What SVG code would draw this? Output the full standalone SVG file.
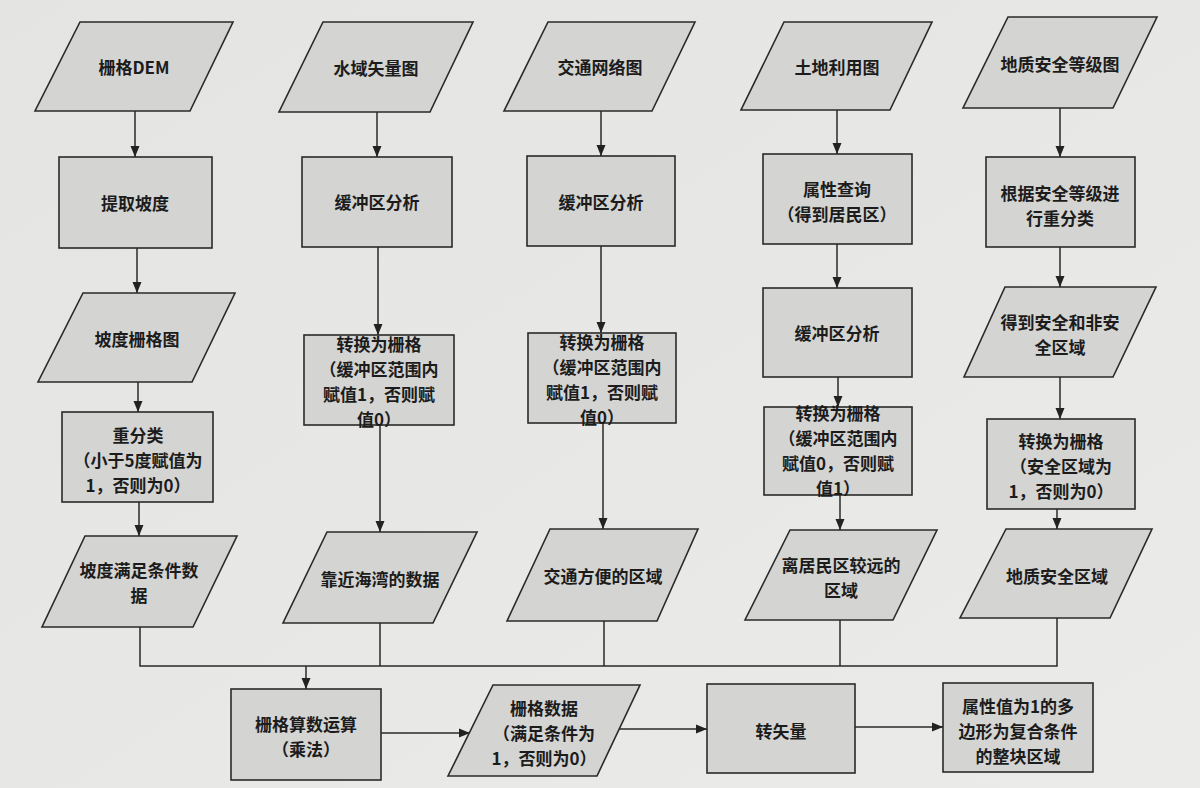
<svg xmlns="http://www.w3.org/2000/svg" width="1200" height="788" viewBox="0 0 1200 788">
<defs>
<linearGradient id="bg" x1="0" y1="0" x2="1" y2="1">
<stop offset="0" stop-color="#e4e4e2"/>
<stop offset="1" stop-color="#ebebe9"/>
</linearGradient>
<marker id="ah" markerUnits="userSpaceOnUse" markerWidth="12" markerHeight="10" refX="11" refY="5" orient="auto">
<path d="M0,0.5 L11,5 L0,9.5 z" fill="#222"/>
</marker>
<style>
.n{fill:#d4d4d2;stroke:#2a2a2a;stroke-width:1.6}
.t{font-family:"Noto Sans CJK SC","Noto Sans",sans-serif;font-size:17px;font-weight:700;fill:#1c1c1c;text-anchor:middle;dominant-baseline:central}
.c{fill:none;stroke:#2a2a2a;stroke-width:1.5}
.a{fill:none;stroke:#2a2a2a;stroke-width:1.5;marker-end:url(#ah)}
</style>
</defs>
<rect width="1200" height="788" fill="url(#bg)"/>

<g id="connectors">
<line class="a" x1="135" y1="111" x2="135" y2="157"/>
<line class="a" x1="137" y1="248" x2="137" y2="293"/>
<line class="a" x1="138" y1="382" x2="138" y2="412"/>
<line class="a" x1="139" y1="502" x2="139" y2="536"/>
<line class="a" x1="377" y1="112" x2="377" y2="157"/>
<line class="a" x1="378" y1="247" x2="378" y2="335"/>
<line class="a" x1="380" y1="425" x2="380" y2="532"/>
<line class="a" x1="601" y1="111" x2="601" y2="156"/>
<line class="a" x1="601" y1="246" x2="601" y2="333"/>
<line class="a" x1="603" y1="423" x2="603" y2="529"/>
<line class="a" x1="837" y1="110" x2="837" y2="154"/>
<line class="a" x1="837" y1="244" x2="837" y2="288"/>
<line class="a" x1="838" y1="377" x2="838" y2="407"/>
<line class="a" x1="840" y1="495" x2="840" y2="530"/>
<line class="a" x1="1060" y1="108" x2="1060" y2="157"/>
<line class="a" x1="1060" y1="247" x2="1060" y2="287"/>
<line class="a" x1="1060" y1="377" x2="1060" y2="419"/>
<line class="a" x1="1057" y1="509" x2="1057" y2="529"/>
<polyline class="c" points="140,627 140,666 1057,666 1057,618"/>
<line class="c" x1="380" y1="623" x2="380" y2="666"/>
<line class="c" x1="604" y1="621" x2="604" y2="666"/>
<line class="c" x1="840" y1="620" x2="840" y2="666"/>
<line class="a" x1="306" y1="666" x2="306" y2="689"/>
<line class="a" x1="381" y1="733" x2="470" y2="733"/>
<line class="a" x1="619" y1="729" x2="707" y2="729"/>
<line class="a" x1="855" y1="727" x2="943" y2="727"/>
</g>

<g id="n1"><polygon class="n" points="80,22 233,22 190,111 35,111"/><text class="t" x="134" y="66">栅格DEM</text></g>
<g id="n2"><rect class="n" x="59" y="157" width="153" height="91"/><text class="t" x="135" y="202">提取坡度</text></g>
<g id="n3"><polygon class="n" points="83,293 235,293 192,382 38,382"/><text class="t" x="137" y="338">坡度栅格图</text></g>
<g id="n4"><rect class="n" x="62" y="412" width="151" height="90"/><text class="t" x="138"><tspan x="138" y="434">重分类</tspan><tspan x="138" y="459">（小于5度赋值为</tspan><tspan x="138" y="484">1，否则为0）</tspan></text></g>
<g id="n5"><polygon class="n" points="85,536 237,536 193,627 42,627"/><text class="t" x="139"><tspan x="139" y="569">坡度满足条件数</tspan><tspan x="139" y="594">据</tspan></text></g>

<g id="n6"><polygon class="n" points="323,22 473,22 430,112 279,112"/><text class="t" x="376" y="67">水域矢量图</text></g>
<g id="n7"><rect class="n" x="302" y="157" width="150" height="90"/><text class="t" x="377" y="201">缓冲区分析</text></g>
<g id="n8"><rect class="n" x="304" y="335" width="150" height="90"/><text class="t" x="379"><tspan x="379" y="343">转换为栅格</tspan><tspan x="379" y="368">（缓冲区范围内</tspan><tspan x="379" y="393">赋值1，否则赋</tspan><tspan x="379" y="418">值0）</tspan></text></g>
<g id="n9"><polygon class="n" points="327,532 477,532 433,623 283,623"/><text class="t" x="380" y="578">靠近海湾的数据</text></g>

<g id="n10"><polygon class="n" points="548,22 695,22 652,111 504,111"/><text class="t" x="600" y="66">交通网络图</text></g>
<g id="n11"><rect class="n" x="527" y="156" width="148" height="90"/><text class="t" x="601" y="201">缓冲区分析</text></g>
<g id="n12"><rect class="n" x="528" y="333" width="148" height="90"/><text class="t" x="602"><tspan x="602" y="341">转换为栅格</tspan><tspan x="602" y="366">（缓冲区范围内</tspan><tspan x="602" y="391">赋值1，否则赋</tspan><tspan x="602" y="416">值0）</tspan></text></g>
<g id="n13"><polygon class="n" points="550,529 698,529 657,621 507,621"/><text class="t" x="603" y="575">交通方便的区域</text></g>

<g id="n14"><polygon class="n" points="784,22 932,22 890,110 741,110"/><text class="t" x="837" y="66">土地利用图</text></g>
<g id="n15"><rect class="n" x="763" y="154" width="149" height="90"/><text class="t" x="837"><tspan x="837" y="188">属性查询</tspan><tspan x="837" y="213">（得到居民区）</tspan></text></g>
<g id="n16"><rect class="n" x="763" y="288" width="149" height="89"/><text class="t" x="837" y="332">缓冲区分析</text></g>
<g id="n17"><rect class="n" x="764" y="407" width="148" height="88"/><text class="t" x="838"><tspan x="838" y="412">转换为栅格</tspan><tspan x="838" y="437">（缓冲区范围内</tspan><tspan x="838" y="462">赋值0，否则赋</tspan><tspan x="838" y="487">值1）</tspan></text></g>
<g id="n18"><polygon class="n" points="790,530 937,530 893,620 745,620"/><text class="t" x="841"><tspan x="841" y="564">离居民区较远的</tspan><tspan x="841" y="589">区域</tspan></text></g>

<g id="n19"><polygon class="n" points="1008,17 1157,17 1113,108 963,108"/><text class="t" x="1060" y="63">地质安全等级图</text></g>
<g id="n20"><rect class="n" x="986" y="157" width="149" height="90"/><text class="t" x="1060"><tspan x="1060" y="192">根据安全等级进</tspan><tspan x="1060" y="217">行重分类</tspan></text></g>
<g id="n21"><polygon class="n" points="1005,287 1156,287 1113,377 964,377"/><text class="t" x="1060"><tspan x="1060" y="321">得到安全和非安</tspan><tspan x="1060" y="346">全区域</tspan></text></g>
<g id="n22"><rect class="n" x="987" y="419" width="148" height="90"/><text class="t" x="1061"><tspan x="1061" y="440">转换为栅格</tspan><tspan x="1061" y="465">（安全区域为</tspan><tspan x="1061" y="490">1，否则为0）</tspan></text></g>
<g id="n23"><polygon class="n" points="1006,529 1152,529 1110,618 960,618"/><text class="t" x="1057" y="575">地质安全区域</text></g>

<g id="n24"><rect class="n" x="231" y="689" width="150" height="91"/><text class="t" x="306"><tspan x="306" y="723">栅格算数运算</tspan><tspan x="306" y="748">（乘法）</tspan></text></g>
<g id="n25"><polygon class="n" points="493,685 640,685 597,776 448,776"/><text class="t" x="544"><tspan x="544" y="707">栅格数据</tspan><tspan x="544" y="732">（满足条件为</tspan><tspan x="544" y="757">1，否则为0）</tspan></text></g>
<g id="n26"><rect class="n" x="707" y="684" width="148" height="89"/><text class="t" x="781" y="730">转矢量</text></g>
<g id="n27"><rect class="n" x="943" y="683" width="150" height="89"/><text class="t" x="1018"><tspan x="1018" y="705">属性值为1的多</tspan><tspan x="1018" y="730">边形为复合条件</tspan><tspan x="1018" y="755">的整块区域</tspan></text></g>
</svg>
